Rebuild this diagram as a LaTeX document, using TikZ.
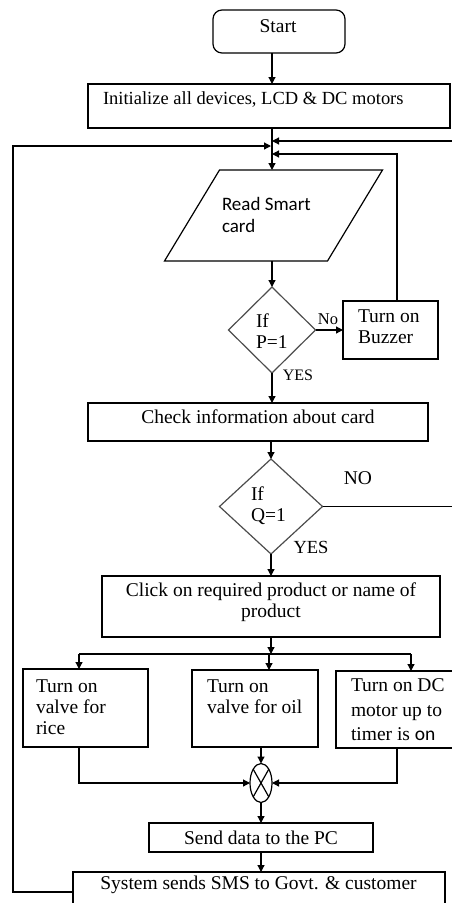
\documentclass[tikz,border=0pt]{standalone}
\usepackage{fontspec}
\setmainfont{Liberation Serif}
\setsansfont{Carlito}
\usetikzlibrary{shapes.geometric,arrows.meta}
\begin{document}
\begin{tikzpicture}[x=1pt,y=-1pt,
  every node/.style={inner sep=0pt,outer sep=0pt},
  line/.style={line width=1.2pt},
  box/.style={draw,line width=1.2pt,rectangle},
  txt/.style={font=\fontsize{19.5}{21}\selectfont,align=left},
  dec/.style={draw=black!70,line width=1.2pt,diamond},
  arr/.style={line,-{Triangle[length=7pt,width=7pt]}},
]
\useasboundingbox (0,0) rectangle (452,903);

% start and init
\node[box,rounded corners=9pt,minimum width=132pt,minimum height=43pt] (start) at (279,31.5) {};
\node[txt] (startT) at (278,26) {Start};
\node[box,minimum width=362pt,minimum height=44pt] (init) at (269,106) {};
\node[txt,font=\fontsize{18.5}{21}\selectfont,anchor=west] (initT) at (103,99) {Initialize all devices, LCD \& DC motors};

\coordinate (jA) at (272,141);
\coordinate (jB) at (271,146);
\coordinate (jC) at (272,154);

\draw[arr] (start.south -| jA) -- (init.north -| jA);

% read smart card
\node[minimum width=163pt,minimum height=91pt] (read) at (273.5,215.5) {};
\draw[line] ([xshift=27.5pt]read.north west) -- ([xshift=27.5pt]read.north east)
  -- ([xshift=-27.5pt]read.south east) -- ([xshift=-27.5pt]read.south west) -- cycle;
\node[font=\sffamily\fontsize{19}{22}\selectfont,align=left,anchor=west] (readT) at (222,215) {Read Smart\\card};
\draw[arr] (init.south -| jA) -- (read.north -| jA);

% P decision
\node[dec,minimum width=87pt,minimum height=86pt] (p) at (272,330) {};
\node[txt,anchor=west] (pT) at (256,331) {If\\P=1};
\draw[arr] (read.south -| p) -- (p.north);
\node[txt,font=\fontsize{16.5}{20}\selectfont] (no1) at (328,319) {No};
\node[txt,font=\fontsize{16}{20}\selectfont] (yes1) at (298,375) {YES};

\node[box,minimum width=95pt,minimum height=58pt] (buz) at (390.5,330) {};
\node[txt,anchor=west] (buzT) at (358,327) {Turn on\\Buzzer};
\draw[arr] (p.east) -- (buz.west);
\coordinate (bz) at (397,154);
\draw[arr] (buz.north -| bz) -- (bz) -- (jC);

% check
\node[box,minimum width=340pt,minimum height=38pt] (chk) at (258,422) {};
\node[txt] (chkT) at (258,417) {Check information about card};
\draw[arr] (p.south) -- (chk.north -| p);

% Q decision
\node[dec,minimum width=103pt,minimum height=95pt] (q) at (271,506.5) {};
\node[txt,anchor=west] (qT) at (251,506) {If\\Q=1};
\draw[arr] (chk.south -| q) -- (q.north);
\node[txt] (no2) at (358,478) {NO};
\node[txt,font=\fontsize{18.5}{21}\selectfont] (yes2) at (311,547) {YES};
\coordinate (qr) at (455,506.5);
\draw[arr] (q.east) -- (qr) -- (qr |- jA) -- (jA);

% click
\node[box,minimum width=338pt,minimum height=61pt] (clk) at (271,606.5) {};
\node[txt,align=center] (clkT) at (271,602) {Click on required product or name of\\product};
\draw[arr] (q.south) -- (clk.north -| q);

\coordinate (bm) at (271,654);
\coordinate (bl) at (79,654);
\coordinate (bm2) at (269,654);
\coordinate (bR) at (411,654);
\draw[arr] (clk.south -| bm) -- (bm);
\draw[line] (bl) -- (bR);

\node[box,minimum width=125pt,minimum height=78pt] (b1) at (85.5,708) {};
\node[txt,anchor=west] (b1T) at (36,707) {Turn on\\valve for\\rice};
\node[box,minimum width=126pt,minimum height=77pt] (b2) at (255,708.5) {};
\node[txt,anchor=west] (b2T) at (207,697) {Turn on\\valve for oil};
\node[box,minimum width=120pt,minimum height=77pt] (b3) at (396,709.5) {};
\node[txt,font=\fontsize{19.5}{24.5}\selectfont,anchor=west] (b3T) at (351,710) {Turn on DC\\motor up to\\timer is {\sffamily on}};

\draw[arr] (bl) -- (bl |- b1.north);
\draw[arr] (bm2) -- (bm2 |- b2.north);
\draw[arr] (bR) -- (bR |- b3.north);

% merge
\node[draw,ellipse,line width=1.2pt,minimum width=22pt,minimum height=39pt] (mg) at (261,783) {};
\draw[line] (mg.north west) -- (mg.south east);
\draw[line] (mg.north east) -- (mg.south west);
\coordinate (b3x) at (397,783);
\draw[arr] (b1.south -| bl) -- (bl |- mg.west) -- (mg.west);
\draw[arr] (b2.south -| mg) -- (mg.north);
\draw[arr] (b3.south -| b3x) -- (b3x) -- (mg.east);

% send and system
\node[box,txt,minimum width=224pt,minimum height=29pt] (snd) at (261,837.5) {Send data to the PC};
\draw[arr] (mg.south) -- (snd.north);
\node[box,minimum width=372pt,minimum height=40pt] (sys) at (259,892) {};
\node[txt] (sysT) at (258.5,885) {System sends SMS to Govt. \& customer};
\draw[arr] (snd.south) -- (snd.south |- sys.north);

\coordinate (lp) at (13,891);
\draw[arr] (sys.west) -- (lp |- sys.west) -- (lp |- jB) -- (jB);
\end{tikzpicture}
\end{document}
